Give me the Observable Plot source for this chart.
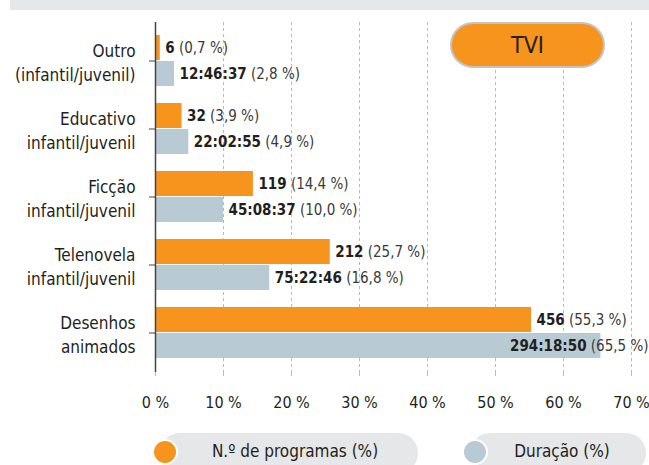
<!DOCTYPE html>
<html>
<head>
<meta charset="utf-8">
<script src="https://cdn.jsdelivr.net/npm/d3@7"></script>
<script src="https://cdn.jsdelivr.net/npm/@observablehq/plot@0.6"></script>
<style>
  html, body { margin: 0; padding: 0; background: #fff; }
  body { width: 649px; height: 465px; position: relative; overflow: hidden;
         font-family: "Liberation Sans Narrow", "DejaVu Sans Condensed", "Roboto Condensed", "Liberation Sans", sans-serif;
         font-stretch: condensed; color: #231f20; }
  #banner { position: absolute; left: 10px; top: 0; width: 639px; height: 10px; background: #e6e7e8; }
  #chart { position: absolute; left: 0; top: 0; }
  #badge { position: absolute; left: 450px; top: 22px; width: 151px; height: 42px; border-radius: 23px;
           background: #f7941d; border: 2px solid #c4c4c4; display: flex; align-items: center; justify-content: center;
           font-size: 23px; color: #231f20; }
  .pill { position: absolute; top: 433px; height: 40px; border-radius: 20px; background: #e6e7e8; }
  .dot { position: absolute; width: 22px; height: 22px; border-radius: 50%; border: 2px solid #fff; top: 439px; }
  .ltext { position: absolute; top: 441px; font-size: 17px; color: #231f20; text-align: center; }
</style>
</head>
<body>
<div id="chart"></div>
<div id="banner"></div>
<div id="badge">TVI</div>
<div class="pill" style="left:160px;width:258px"></div>
<div class="dot" style="left:152px;background:#f7941d"></div>
<div class="ltext" style="left:180px;width:230px">N.º de programas (%)</div>
<div class="pill" style="left:470px;width:176px"></div>
<div class="dot" style="left:462px;background:#b8cad3"></div>
<div class="ltext" style="left:482px;width:160px">Duração (%)</div>
<script>
const categories = ["Outro\n(infantil/juvenil)", "Educativo\ninfantil/juvenil", "Ficção\ninfantil/juvenil", "Telenovela\ninfantil/juvenil", "Desenhos\nanimados"];
const programCounts = [6, 32, 119, 212, 456];
const programPct = [0.7, 3.9, 14.4, 25.7, 55.3];
const durationText = ["12:46:37", "22:02:55", "45:08:37", "75:22:46", "294:18:50"];
const durationPct = [2.8, 4.9, 10.0, 16.8, 65.5];
const xTicks = [0, 10, 20, 30, 40, 50, 60, 70];

const ORANGE = "#f7941d", GREY = "#b8cad3";
const fmtPct = v => v.toFixed(1).replace(".", ",") + " %";

const progRows = categories.map((c, i) => ({cat: c, pct: programPct[i], label: programCounts[i] + "\t(" + fmtPct(programPct[i]) + ")"}));
const durRows = categories.map((c, i) => ({cat: c, pct: durationPct[i], label: durationText[i] + "\t(" + fmtPct(durationPct[i]) + ")"}));
const fits = d => d.pct < 60;

const W = 649, H = 425, mL = 155, mR = 18, mT = 22, mB = 53;
const half = 26;

const chart = Plot.plot({
  width: W, height: H,
  marginLeft: mL, marginRight: mR, marginTop: mT, marginBottom: mB,
  style: {fontFamily: "'Liberation Sans Narrow', 'DejaVu Sans Condensed', 'Roboto Condensed', 'Liberation Sans', sans-serif", fontStretch: "condensed", color: "#231f20", background: "transparent"},
  x: {domain: [0, 70]},
  y: {domain: categories, paddingInner: 0.244, paddingOuter: 0.167},
  marks: [
    Plot.gridX(xTicks.slice(1), {stroke: "#b8b8b8", strokeOpacity: 1, strokeDasharray: "3,3", strokeWidth: 1}),
    Plot.axisX({ticks: xTicks, tickFormat: d => d + " %", tickSize: 4, tickPadding: 20, fontSize: 16, stroke: "#bbb", label: null, color: "#231f20"}),
    Plot.barX(progRows, {x: "pct", y: "cat", fill: ORANGE, insetBottom: half}),
    Plot.barX(durRows, {x: "pct", y: "cat", fill: GREY, insetTop: half}),
    Plot.ruleX([0], {stroke: "#444", strokeWidth: 1.5}),
    Plot.axisY({tickSize: 6, tickFormat: () => "", stroke: "#444", label: null}),
    Plot.text(categories, {y: d => d, text: d => d, frameAnchor: "left", textAnchor: "end", dx: -20, lineHeight: 1.45, fontSize: 17, fill: "#231f20"}),
    Plot.text(progRows.filter(fits), {x: "pct", y: "cat", text: "label", dx: 5, dy: -13, textAnchor: "start", fontSize: 15, fill: "#231f20", className: "vlab"}),
    Plot.text(durRows.filter(fits), {x: "pct", y: "cat", text: "label", dx: 5, dy: 13, textAnchor: "start", fontSize: 15, fill: "#231f20", className: "vlab"}),
    Plot.text(progRows.filter(d => !fits(d)), {y: "cat", text: "label", frameAnchor: "right", dx: 17, dy: -13, textAnchor: "end", fontSize: 15, fill: "#231f20", className: "vlab"}),
    Plot.text(durRows.filter(d => !fits(d)), {y: "cat", text: "label", frameAnchor: "right", dx: 17, dy: 13, textAnchor: "end", fontSize: 15, fill: "#231f20", className: "vlab"})
  ]
});

d3.select(chart).selectAll("g.vlab text").each(function () {
  const t = d3.select(this);
  const parts = t.text().split("\t");
  t.text(null);
  t.append("tspan").attr("font-weight", "bold").text(parts[0]);
  t.append("tspan").attr("fill", "#3a3a3a").text(" " + parts[1]);
});

document.getElementById("chart").appendChild(chart);
</script>
</body>
</html>
